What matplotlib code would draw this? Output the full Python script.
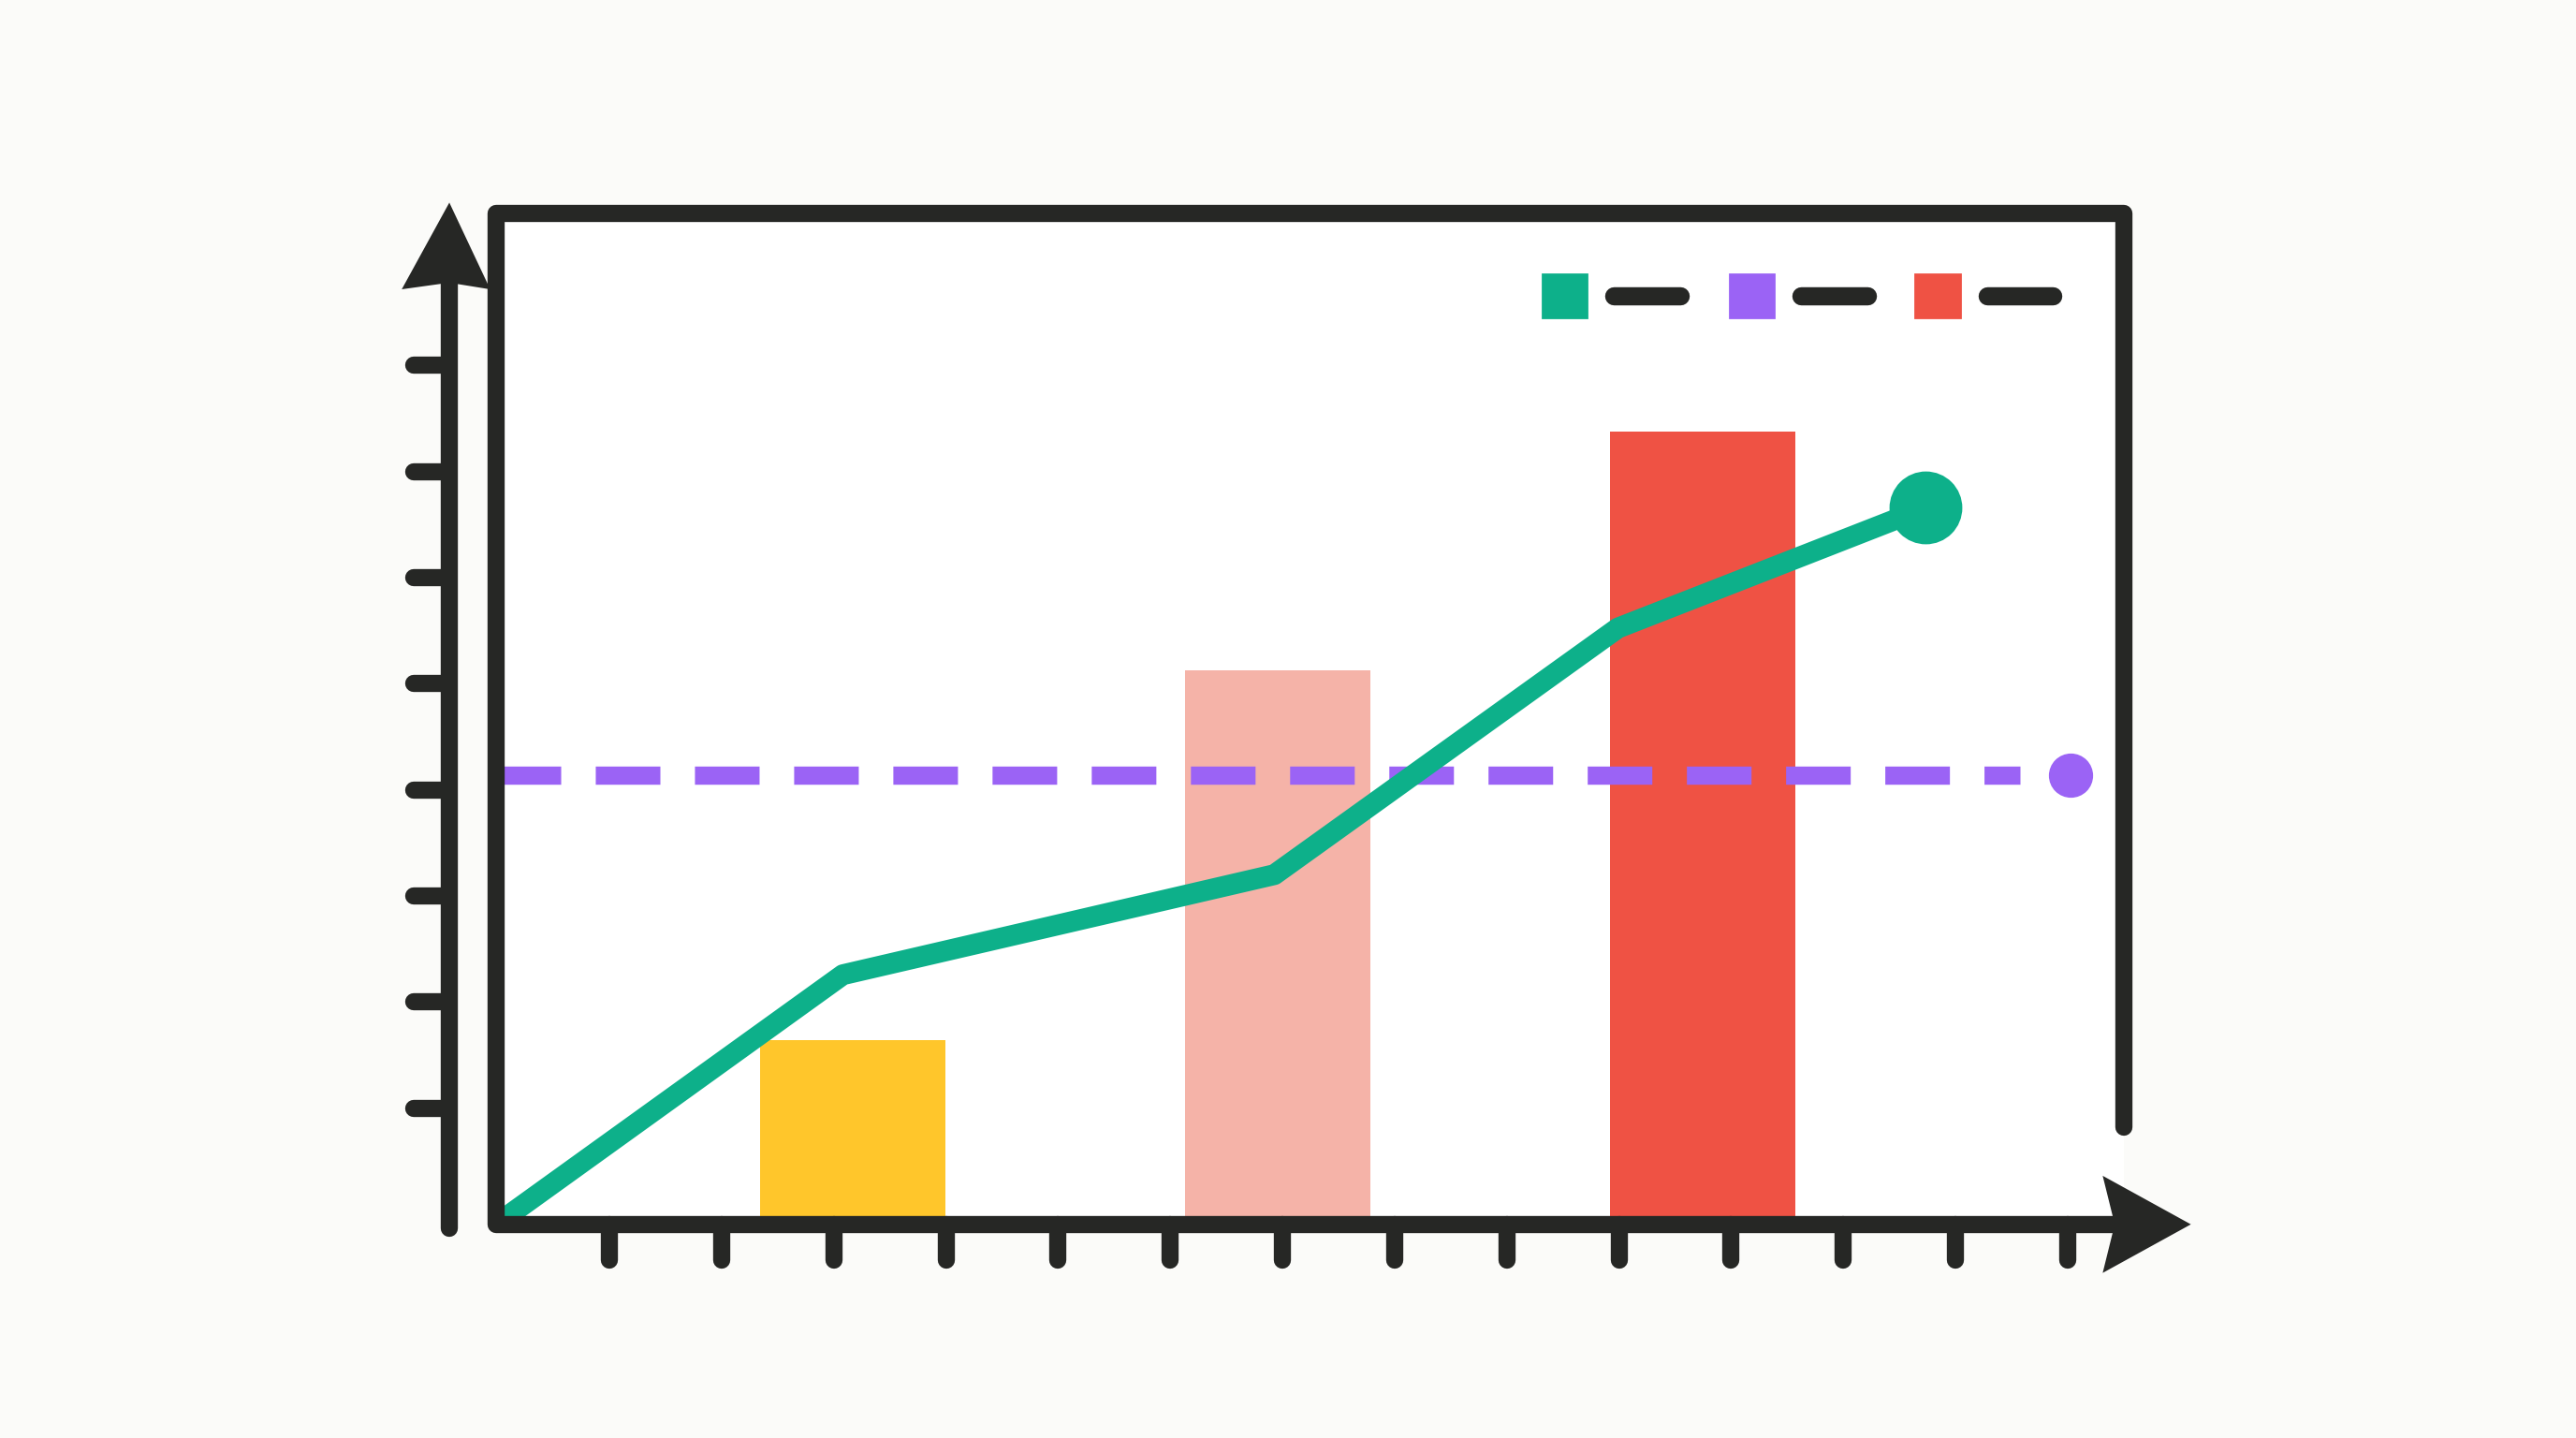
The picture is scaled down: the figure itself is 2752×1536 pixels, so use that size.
import numpy as np
import matplotlib
matplotlib.use("Agg")
import matplotlib.pyplot as plt
from matplotlib.patches import Polygon

# data (axis units 0-100)
bar_x = [21.9, 48.0, 74.1]
bar_h = [18.2, 54.8, 78.4]
bar_colors = ["#FFC62B", "#F5B3A8", "#EF5244"]

line_x = [0.0, 21.3, 47.8, 68.9, 87.8]
line_y = [0.0, 24.7, 34.6, 59.0, 70.9]

ref_y = 44.4
ref_x = [0.0, 93.6]
ref_dot_x = 96.7

legend_colors = ["#0DB08A", "#9B63F5", "#EF5244"]

INK = "#262725"
GREEN = "#0DB08A"
PURPLE = "#9B63F5"

fig = plt.figure(figsize=(13.76, 7.68), dpi=200, facecolor="#FBFBF9")
ax = fig.add_axes([302 / 1568, 1 - 745 / 875, 991 / 1568, 615 / 875])
ax.set_facecolor("white")
ax.set_xlim(0, 100)
ax.set_ylim(0, 100)
ax.set_xticks([])
ax.set_yticks([])
for s in ax.spines.values():
    s.set_visible(False)

# bars
ax.bar(bar_x, bar_h, width=11.4, color=bar_colors, zorder=2)

# purple dashed reference line
ax.plot(ref_x, [ref_y, ref_y], color=PURPLE, lw=7, dashes=(3.55, 1.9),
        dash_capstyle="butt", zorder=3)
ax.plot(ref_dot_x, ref_y, "o", color=PURPLE, ms=16, zorder=3)

# green line with end dot (drawn over the dashes)
ax.plot(line_x, line_y, color=GREEN, lw=8, solid_joinstyle="round",
        solid_capstyle="butt", zorder=4)
ax.plot(line_x[-1], line_y[-1], "o", color=GREEN, ms=27, zorder=4)

T = ax.transAxes
lw = 6.6

# frame: open at lower right, bottom edge runs into the x arrow
ax.plot([1.0, 1.0, 0.0, 0.0, 0.995], [0.096, 1.0, 1.0, 0.0, 0.0], color=INK,
        lw=lw, solid_joinstyle="round", solid_capstyle="round",
        transform=T, clip_on=False, zorder=5)
ax.add_patch(Polygon([[0.988, 0.0455], [1.0393, 0.0], [0.988, -0.0455], [0.995, 0.0]],
                     closed=True, color=INK, transform=T, clip_on=False, zorder=5))

# separate y axis arrow
ax.plot([-0.0288, -0.0288], [-0.004, 0.935], color=INK, lw=lw,
        solid_capstyle="round", transform=T, clip_on=False, zorder=5)
ax.add_patch(Polygon([[-0.0565, 0.9268], [-0.0288, 1.0081], [-0.0050, 0.9268], [-0.0288, 0.933]],
                     closed=True, color=INK, transform=T, clip_on=False, zorder=5))

# y ticks
for yt in 0.115 + 0.105 * np.arange(8):
    ax.plot([-0.0505, -0.0300], [yt, yt], color=INK, lw=lw,
            solid_capstyle="round", transform=T, clip_on=False, zorder=5)

# x ticks
for xt in 0.0696 + 0.0689 * np.arange(14):
    ax.plot([xt, xt], [0.0, -0.0355], color=INK, lw=lw,
            solid_capstyle="round", transform=T, clip_on=False, zorder=5)

# legend-like key at top right
sq_left = [0.6428, 0.7578, 0.8718]
for x0, c in zip(sq_left, legend_colors):
    ax.add_patch(plt.Rectangle((x0, 0.8976), 0.0272, 0.0422, color=c,
                               transform=T, clip_on=False, zorder=5))
    ax.plot([x0 + 0.0439, x0 + 0.0842], [0.9187, 0.9187], color=INK, lw=7,
            solid_capstyle="round", transform=T, clip_on=False, zorder=5)

fig.savefig("out.png", dpi=200, facecolor=fig.get_facecolor())
